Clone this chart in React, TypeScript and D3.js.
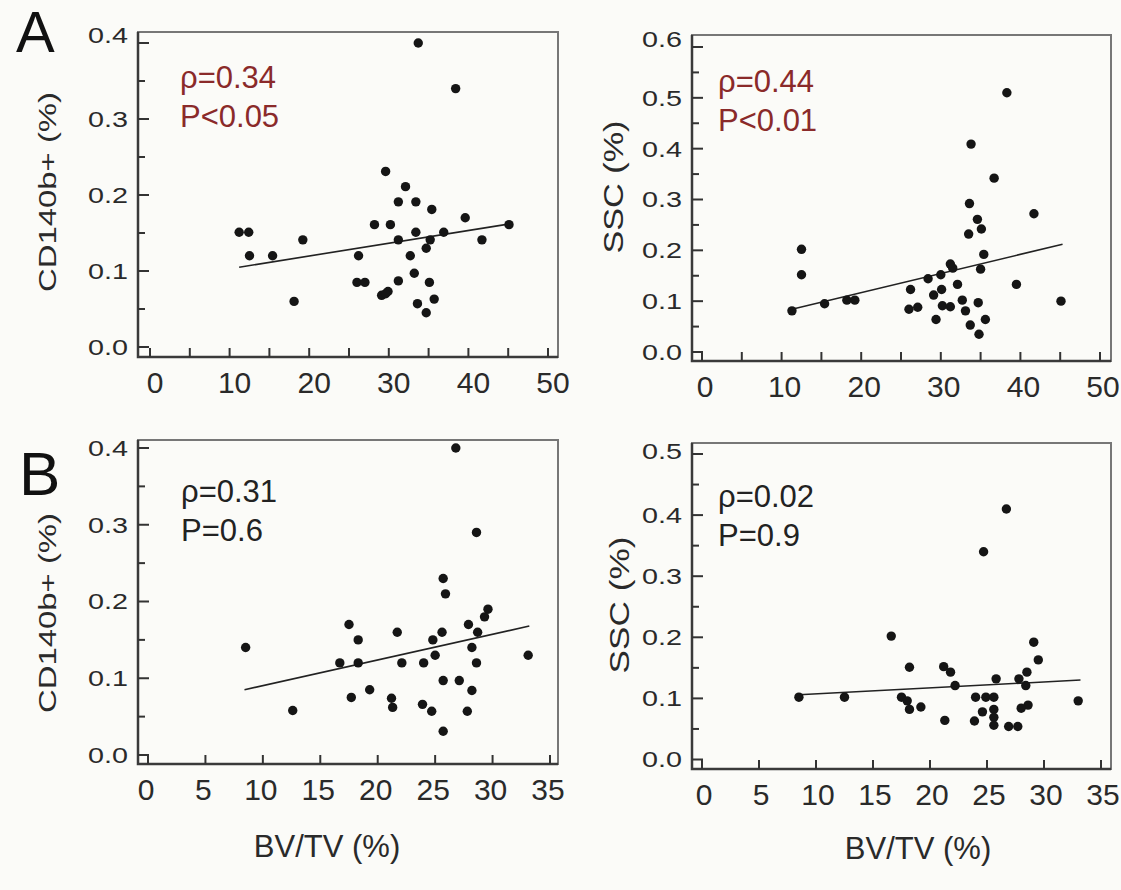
import React, { useEffect, useRef } from "react";
import * as d3 from "d3";

// values: [BV/TV %, marker %]
const cd140A: [number, number][] = [
  [33.7, 0.4], [38.4, 0.34], [29.6, 0.231], [32.1, 0.211], [31.2, 0.191], [33.4, 0.191],
  [35.4, 0.181], [39.6, 0.17], [28.2, 0.161], [30.2, 0.161], [45.1, 0.161], [11.2, 0.151],
  [12.4, 0.151], [33.4, 0.151], [36.9, 0.151], [19.2, 0.141], [31.2, 0.141], [35.2, 0.141],
  [41.7, 0.141], [34.7, 0.13], [12.5, 0.12], [15.4, 0.12], [26.2, 0.12], [32.7, 0.12],
  [33.2, 0.097], [26.0, 0.085], [27.0, 0.085], [31.2, 0.087], [35.1, 0.085], [29.1, 0.068],
  [29.9, 0.073], [29.6, 0.07], [18.1, 0.06], [35.7, 0.063], [33.6, 0.057], [34.7, 0.045],
];
const sscA: [number, number][] = [
  [38.3, 0.51], [33.8, 0.409], [36.7, 0.342], [33.6, 0.292], [41.7, 0.272], [34.6, 0.261],
  [35.1, 0.242], [33.5, 0.232], [12.5, 0.202], [35.4, 0.192], [31.2, 0.173], [31.5, 0.165],
  [35.0, 0.163], [12.5, 0.152], [28.4, 0.144], [30.0, 0.152], [39.5, 0.133], [32.1, 0.133],
  [26.2, 0.123], [30.1, 0.123], [29.1, 0.112], [32.7, 0.102], [45.1, 0.1], [15.4, 0.095],
  [18.2, 0.102], [19.2, 0.102], [34.7, 0.097], [30.2, 0.091], [31.2, 0.089], [26.0, 0.084],
  [27.1, 0.088], [11.3, 0.081], [33.1, 0.081], [29.4, 0.064], [35.6, 0.064], [33.7, 0.053],
  [34.8, 0.035],
];
const cd140B: [number, number][] = [
  [26.8, 0.4], [28.6, 0.29], [25.7, 0.23], [25.9, 0.21], [29.6, 0.19], [29.3, 0.18],
  [17.5, 0.17], [27.9, 0.17], [21.7, 0.16], [25.6, 0.16], [28.7, 0.16], [18.3, 0.15],
  [24.8, 0.15], [8.5, 0.14], [28.2, 0.14], [25.0, 0.13], [33.1, 0.13], [16.7, 0.12],
  [18.3, 0.12], [22.1, 0.12], [24.0, 0.12], [28.6, 0.12], [25.7, 0.097], [27.1, 0.097],
  [19.3, 0.085], [28.2, 0.084], [17.7, 0.075], [21.2, 0.074], [21.3, 0.062], [23.9, 0.066],
  [24.7, 0.057], [12.6, 0.058], [27.8, 0.057], [25.7, 0.031],
];
const sscB: [number, number][] = [
  [26.7, 0.41], [24.7, 0.34], [16.6, 0.202], [29.1, 0.192], [29.5, 0.163], [18.2, 0.151],
  [21.2, 0.152], [21.8, 0.143], [28.5, 0.143], [25.8, 0.132], [27.8, 0.132], [22.2, 0.121],
  [28.4, 0.121], [8.5, 0.102], [12.5, 0.102], [17.5, 0.102], [24.0, 0.102], [24.9, 0.102],
  [25.6, 0.102], [33.0, 0.096], [18.0, 0.096], [18.2, 0.082], [19.2, 0.086], [24.6, 0.078],
  [25.6, 0.082], [25.6, 0.069], [25.6, 0.056], [28.6, 0.089], [28.0, 0.084], [21.3, 0.064],
  [23.9, 0.063], [26.9, 0.054], [27.7, 0.054],
];

// regression line end points
const fitCd140A: [number, number][] = [[11.2, 0.105], [45.2, 0.162]];
const fitSscA: [number, number][] = [[11.3, 0.084], [45.3, 0.212]];
const fitCd140B: [number, number][] = [[8.4, 0.085], [33.2, 0.168]];
const fitSscB: [number, number][] = [[8.5, 0.106], [33.2, 0.13]];

const statsCd140A = ["ρ=0.34", "P<0.05"];
const statsSscA = ["ρ=0.44", "P<0.01"];
const statsCd140B = ["ρ=0.31", "P=0.6"];
const statsSscB = ["ρ=0.02", "P=0.9"];

const xTicks50 = [0, 5, 10, 15, 20, 25, 30, 35, 40, 45, 50];
const xLabels50 = [0, 10, 20, 30, 40, 50];
const xTicks35 = [0, 5, 10, 15, 20, 25, 30, 35];
const xLabels35 = [0, 5, 10, 15, 20, 25, 30, 35];
const yTicks04 = [0, 0.05, 0.1, 0.15, 0.2, 0.25, 0.3, 0.35, 0.4];
const yLabels04 = [0, 0.1, 0.2, 0.3, 0.4];
const yTicks05 = [0, 0.05, 0.1, 0.15, 0.2, 0.25, 0.3, 0.35, 0.4, 0.45, 0.5];
const yLabels05 = [0, 0.1, 0.2, 0.3, 0.4, 0.5];
const yTicks06 = [0, 0.05, 0.1, 0.15, 0.2, 0.25, 0.3, 0.35, 0.4, 0.45, 0.5, 0.55, 0.6];
const yLabels06 = [0, 0.1, 0.2, 0.3, 0.4, 0.5, 0.6];

const W = 1121, H = 890;
const FONT = "'Liberation Sans', Arial, Helvetica, sans-serif";
const RED = "#8a2a2a";
const INK = "#222";

const panels = [
  {
    data: cd140A, fit: fitCd140A, stats: statsCd140A, statColor: RED,
    xMax: 50, yMax: 0.4, xTicks: xTicks50, xLabels: xLabels50, yTicks: yTicks04, yLabels: yLabels04,
    xRange: [150, 548], yRange: [347, 43], frame: [138, 32, 558, 357], labelShift: 5, topShift: -8,
    statX: 180, statY: [88, 127],
    yTitle: "CD140b+ (%)", yTitlePos: [56, 192], yTitleLen: 200, yTitleSize: 24, xTitle: null as null | number[],
  },
  {
    data: sscA, fit: fitSscA, stats: statsSscA, statColor: RED,
    xMax: 50, yMax: 0.6, xTicks: xTicks50, xLabels: xLabels50, yTicks: yTicks06, yLabels: yLabels06,
    xRange: [702, 1100], yRange: [352, 47], frame: [692, 35, 1111, 361], labelShift: 3, topShift: -8,
    statX: 718, statY: [92, 131],
    yTitle: "SSC (%)", yTitlePos: [623, 187], yTitleLen: 133, yTitleSize: 27, xTitle: null as null | number[],
  },
  {
    data: cd140B, fit: fitCd140B, stats: statsCd140B, statColor: INK,
    xMax: 35, yMax: 0.4, xTicks: xTicks35, xLabels: xLabels35, yTicks: yTicks04, yLabels: yLabels04,
    xRange: [148, 550], yRange: [755, 448], frame: [138, 440, 558, 764], labelShift: -2, topShift: 0,
    statX: 181, statY: [502, 541],
    yTitle: "CD140b+ (%)", yTitlePos: [56, 613], yTitleLen: 200, yTitleSize: 24, xTitle: [327, 857],
  },
  {
    data: sscB, fit: fitSscB, stats: statsSscB, statColor: INK,
    xMax: 35, yMax: 0.5, xTicks: xTicks35, xLabels: xLabels35, yTicks: yTicks05, yLabels: yLabels05,
    xRange: [702, 1101], yRange: [759.5, 454], frame: [692, 443, 1111, 769], labelShift: 2, topShift: -3,
    statX: 718, statY: [507, 546],
    yTitle: "SSC (%)", yTitlePos: [629, 605], yTitleLen: 137, yTitleSize: 27, xTitle: [918, 859],
  },
];

type Panel = (typeof panels)[number];

// stretch a text along its reading direction so it reaches a target length
function stretch(node: SVGTextElement, base: string, target: number) {
  const w = node.getComputedTextLength();
  const s = w > 0 ? target / w : 1;
  node.setAttribute("transform", `${base} scale(${s},1)`);
}

function drawPanel(svg: d3.Selection<SVGSVGElement, unknown, null, undefined>, p: Panel) {
  const x = d3.scaleLinear().domain([0, p.xMax]).range(p.xRange);
  const y = d3.scaleLinear().domain([0, p.yMax]).range(p.yRange);
  const [fl, ft, fr, fb] = p.frame;
  const g = svg.append("g");

  // frame
  g.append("rect")
    .attr("x", fl).attr("y", ft)
    .attr("width", fr - fl).attr("height", fb - ft)
    .attr("fill", "none").attr("stroke", "#777").attr("stroke-width", 2);
  g.append("path")
    .attr("d", `M${fl},${ft}V${fb}H${fr}`)
    .attr("fill", "none").attr("stroke", "#3a3a3a").attr("stroke-width", 2.5);

  const isMajor = (v: number) => Math.abs(v * 10 - Math.round(v * 10)) < 1e-6;

  // y ticks (inward)
  g.selectAll(".yt")
    .data(p.yTicks)
    .join("line")
    .attr("x1", fl).attr("x2", (d) => fl + (isMajor(d) ? 11 : 7))
    .attr("y1", (d) => y(d)).attr("y2", (d) => y(d))
    .attr("stroke", "#333").attr("stroke-width", 2);

  // x ticks (inward)
  g.selectAll(".xt")
    .data(p.xTicks)
    .join("line")
    .attr("x1", (d) => x(d)).attr("x2", (d) => x(d))
    .attr("y1", fb).attr("y2", fb - 9)
    .attr("stroke", "#333").attr("stroke-width", 2);

  // y labels, wide glyphs as in the original
  const top = p.yLabels[p.yLabels.length - 1];
  g.selectAll(".yl")
    .data(p.yLabels)
    .join("text")
    .attr("dy", "0.36em")
    .attr("text-anchor", "end")
    .attr("font-family", FONT).attr("font-size", 22).attr("fill", "#2a2a2a")
    .text((d) => d3.format(".1f")(d))
    .each(function (d) {
      stretch(this as SVGTextElement, `translate(${fl - 10},${y(d) + (d === top ? p.topShift : 0)})`, 40);
    });

  // x labels
  g.selectAll(".xl")
    .data(p.xLabels)
    .join("text")
    .attr("x", (d) => x(d) + p.labelShift)
    .attr("y", fb + 36)
    .attr("text-anchor", "middle")
    .attr("font-family", FONT).attr("font-size", 30).attr("fill", "#2a2a2a")
    .text((d) => String(d));

  // y title
  const yt = g.append("text")
    .attr("text-anchor", "middle")
    .attr("font-family", FONT).attr("font-size", p.yTitleSize).attr("fill", "#2a2a2a")
    .text(p.yTitle);
  stretch(yt.node() as SVGTextElement, `translate(${p.yTitlePos[0]},${p.yTitlePos[1]}) rotate(-90)`, p.yTitleLen);

  if (p.xTitle) {
    g.append("text")
      .attr("x", p.xTitle[0]).attr("y", p.xTitle[1])
      .attr("text-anchor", "middle")
      .attr("font-family", FONT).attr("font-size", 31).attr("fill", "#2a2a2a")
      .text("BV/TV (%)");
  }

  // regression line
  const line = d3.line<[number, number]>().x((d) => x(d[0])).y((d) => y(d[1]));
  g.append("path")
    .attr("d", line(p.fit))
    .attr("fill", "none").attr("stroke", "#222").attr("stroke-width", 1.6);

  // points
  g.selectAll(".pt")
    .data(p.data)
    .join("circle")
    .attr("cx", (d) => x(d[0]))
    .attr("cy", (d) => y(d[1]))
    .attr("r", 4.7)
    .attr("fill", "#151515");

  // stats
  g.selectAll(".st")
    .data(p.stats)
    .join("text")
    .attr("x", p.statX)
    .attr("y", (_d, i) => p.statY[i])
    .attr("font-family", FONT).attr("font-size", 31).attr("fill", p.statColor)
    .text((d) => d);
}

export default function App() {
  const ref = useRef<SVGSVGElement>(null);

  useEffect(() => {
    const svg = d3.select(ref.current as SVGSVGElement);
    svg.selectAll("*").remove();
    svg.append("rect").attr("width", W).attr("height", H).attr("fill", "#fbfbf8");

    panels.forEach((p) => drawPanel(svg, p));

    // panel letters
    svg.append("text")
      .attr("x", 16).attr("y", 52)
      .attr("font-family", FONT).attr("font-size", 58).attr("fill", "#111")
      .text("A");
    svg.append("text")
      .attr("x", 19).attr("y", 495)
      .attr("font-family", FONT).attr("font-size", 62).attr("fill", "#111")
      .text("B");
  }, []);

  return (
    <svg
      ref={ref}
      width={W}
      height={H}
      style={{ position: "absolute", left: 0, top: 0, display: "block" }}
    />
  );
}
